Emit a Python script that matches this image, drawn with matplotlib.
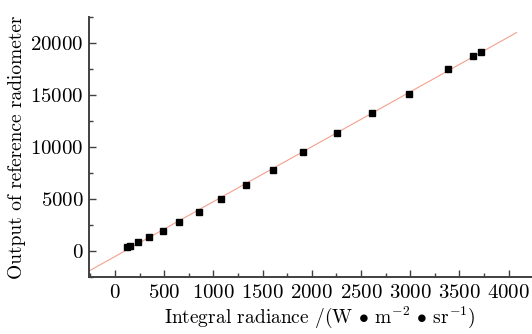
import numpy as np
import matplotlib
matplotlib.use("Agg")
import matplotlib.pyplot as plt
from matplotlib.ticker import MultipleLocator

plt.rcParams['font.family'] = ['cmr10', 'DejaVu Serif']
plt.rcParams['mathtext.fontset'] = 'cm'
plt.rcParams['axes.formatter.use_mathtext'] = True

# radiance (W m^-2 sr^-1) vs reference radiometer output
radiance = [122, 152, 234, 345, 487, 650, 853, 1076, 1330, 1604, 1909,
            2254, 2609, 2985, 3381, 3635, 3716]
output = [385, 481, 865, 1346, 1923, 2788, 3750, 5000, 6346, 7788, 9519,
          11346, 13269, 15096, 17500, 18750, 19135]

k, b = np.polyfit(radiance, output, 1)
xfit = np.array([-264, 4081])

fig = plt.figure(figsize=(5.32, 3.34), dpi=100)
ax = fig.add_axes([0.1673, 0.1707, 0.835, 0.7783])

ax.plot(xfit, k * xfit + b, color='#f4a08c', lw=0.8, zorder=1)
ax.plot(radiance, output, 's', color='black', ms=4.3, zorder=2)

ax.set_xlim(-264, 4250)
ax.set_ylim(-2500, 22500)
ax.xaxis.set_major_locator(MultipleLocator(500))
ax.xaxis.set_minor_locator(MultipleLocator(250))
ax.yaxis.set_major_locator(MultipleLocator(5000))
ax.yaxis.set_minor_locator(MultipleLocator(2500))

for s in ['top', 'right']:
    ax.spines[s].set_visible(False)
for s in ['left', 'bottom']:
    ax.spines[s].set_color('#404040')
    ax.spines[s].set_linewidth(1.4)

ax.tick_params(which='both', direction='in', color='#404040', width=1.0,
               labelsize=15)
ax.tick_params(axis='x', pad=5)
ax.tick_params(axis='y', pad=4)
ax.tick_params(which='major', length=5)
ax.tick_params(which='minor', length=3)

ax.set_xlabel(r'Integral radiance /(W $\bullet$ m$^{-2}$ $\bullet$ sr$^{-1}$)',
              fontsize=14)
ax.xaxis.set_label_coords(0.52, -0.105)
ax.set_ylabel('Output of reference radiometer', fontsize=14, labelpad=3)

fig.savefig('out.png', dpi=100)
